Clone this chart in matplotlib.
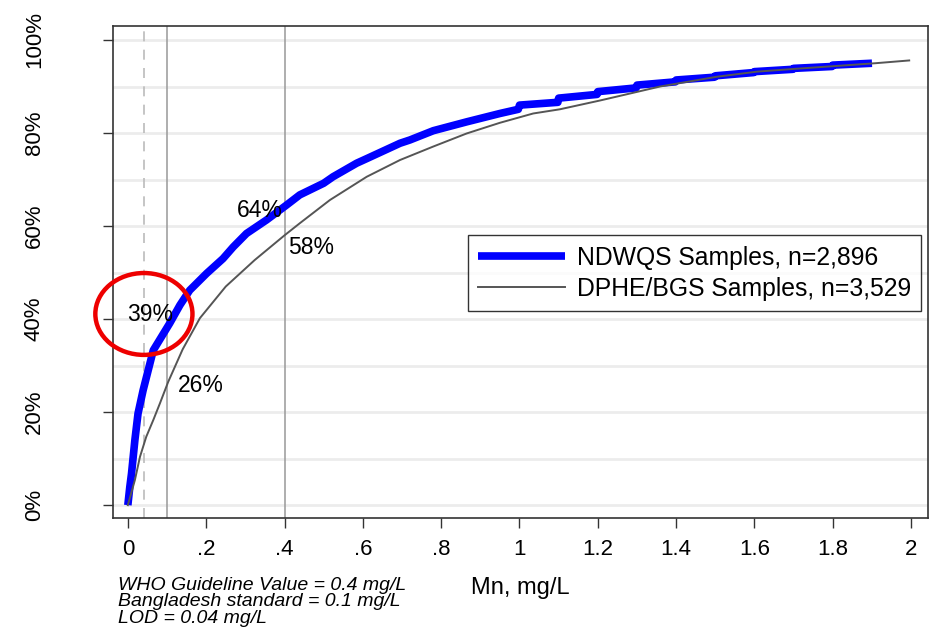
import matplotlib.pyplot as plt
from matplotlib.patches import Ellipse

plt.rcParams['font.family'] = ['Liberation Sans', 'DejaVu Sans']

# Distribucion acumulada de Mn (mg/L) para las dos campañas
ndwqs_mn = [0, 0.005, 0.0094, 0.018, 0.026, 0.039, 0.065, 0.086, 0.107, 0.133, 0.158,
            0.201, 0.243, 0.269, 0.303, 0.354, 0.405, 0.439, 0.5, 0.524, 0.584, 0.61,
            0.695, 0.72, 0.78, 0.865, 0.95, 0.997,
            1.0, 1.098, 1.1, 1.198, 1.2, 1.298, 1.3, 1.398, 1.4, 1.498, 1.5,
            1.598, 1.6, 1.698, 1.7, 1.798, 1.8, 1.9]
ndwqs_pct = [0, 3.9, 6.8, 14.0, 19.7, 24.7, 33.3, 36.2, 39.1, 43.0, 46.2,
             49.8, 53.0, 55.5, 58.4, 61.3, 64.5, 66.7, 69.2, 70.6, 73.5, 74.5,
             77.8, 78.5, 80.5, 82.4, 84.2, 85.1,
             86.0, 86.6, 87.5, 88.3, 88.9, 89.7, 90.3, 91.0, 91.4, 92.0, 92.3,
             93.0, 93.2, 93.7, 93.9, 94.3, 94.6, 95.0]

dphe_mn = [0, 0.018, 0.031, 0.047, 0.065, 0.082, 0.103, 0.14, 0.184, 0.25, 0.324,
           0.4, 0.439, 0.516, 0.61, 0.695, 0.78, 0.865, 0.95, 1.035, 1.103, 1.206,
           1.303, 1.359, 1.504, 1.607, 1.704, 1.806, 1.908, 1.995]
dphe_pct = [0, 5.4, 10.4, 14.7, 18.3, 21.9, 26.5, 33.5, 40.2, 47.0, 52.7,
            58.0, 60.6, 65.6, 70.6, 74.2, 77.1, 79.9, 82.2, 84.2, 85.1, 87.0,
            88.9, 90.0, 92.1, 93.2, 93.8, 94.4, 95.0, 95.6]

# Umbrales de referencia
lod = 0.04
bd_std = 0.1
who_gv = 0.4

etiquetas = [(0.056, 41, '39%'), (0.337, 63.4, '64%'), (0.467, 55.3, '58%'), (0.186, 25.8, '26%')]

fig = plt.figure(figsize=(9.32, 6.35), dpi=100)
ax = fig.add_axes([0.1212, 0.184, 0.8745, 0.775])

for y in range(0, 101, 10):
    ax.axhline(y, color='#ececec', lw=2, zorder=0)

ax.axvline(lod, color='#bbbbbb', lw=1.2, ls=(0, (6, 5)), zorder=1)
ax.axvline(bd_std, color='#999999', lw=1.1, zorder=1)
ax.axvline(who_gv, color='#999999', lw=1.1, zorder=1)

ax.plot(ndwqs_mn, ndwqs_pct, color='#0000ff', lw=5.5, solid_capstyle='butt',
        label='NDWQS Samples, n=2,896', zorder=3)
ax.plot(dphe_mn, dphe_pct, color='#555555', lw=1.4, label='DPHE/BGS Samples, n=3,529', zorder=4)

for x, y, t in etiquetas:
    ax.text(x, y, t, fontsize=16.5, ha='center', va='center', zorder=5)

ax.add_patch(Ellipse((0.041, 41.1), 0.248, 17.6, fill=False, ec='#ee0000', lw=3.2,
                     zorder=6, clip_on=False))

ax.set_xlim(-0.038, 2.043)
ax.set_ylim(-2.8, 103)
ax.set_xticks([0, 0.2, 0.4, 0.6, 0.8, 1, 1.2, 1.4, 1.6, 1.8, 2])
ax.set_xticklabels(['0', '.2', '.4', '.6', '.8', '1', '1.2', '1.4', '1.6', '1.8', '2'])
ax.set_yticks([0, 20, 40, 60, 80, 100])
ax.set_yticklabels(['0%', '20%', '40%', '60%', '80%', '100%'], rotation=90, va='center')
ax.tick_params(axis='both', labelsize=16, length=7, width=1, color='#333333')
ax.tick_params(axis='x', pad=8)
ax.tick_params(axis='y', pad=42)
for s in ax.spines.values():
    s.set_color('#333333')
    s.set_linewidth(1.2)

ax.set_xlabel('Mn, mg/L', fontsize=17, labelpad=12)

leg = ax.legend(loc='upper left', bbox_to_anchor=(0.42, 0.6), fontsize=17.8,
                frameon=True, fancybox=False, edgecolor='black', handlelength=3.5,
                handletextpad=0.5, borderpad=0.42, labelspacing=0.3)
leg.get_frame().set_linewidth(1)

fig.text(118 / 932, 1 - 602 / 635, 'WHO Guideline Value = 0.4 mg/L\nBangladesh standard = 0.1 mg/L\nLOD = 0.04 mg/L',
         fontsize=14, style='italic', va='center', ha='left', linespacing=0.95)

plt.savefig('out.png', dpi=100)
